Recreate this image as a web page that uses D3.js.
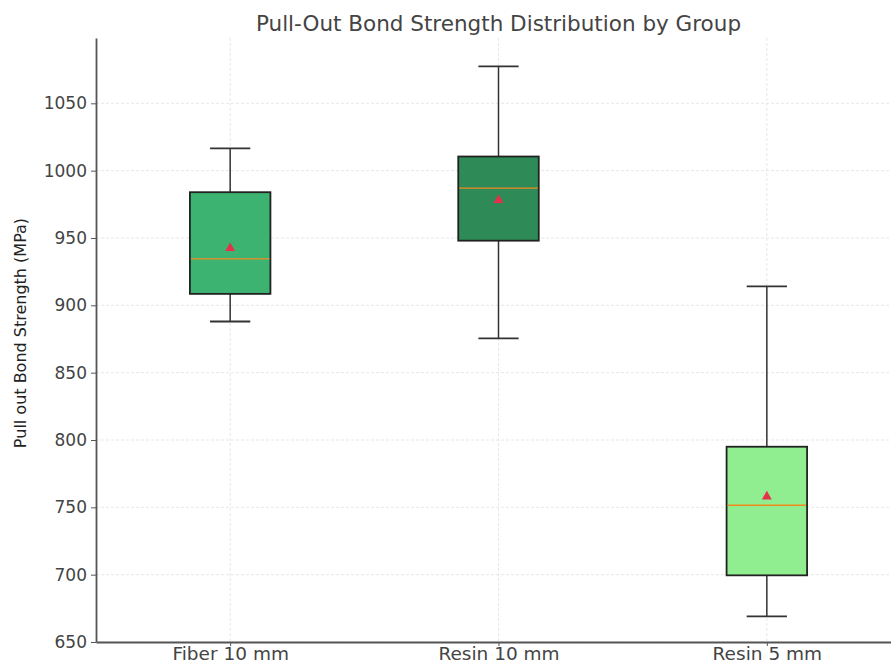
<!DOCTYPE html>
<html>
<head>
<meta charset="utf-8">
<script src="https://cdn.jsdelivr.net/npm/d3@7"></script>
<style>
  body { margin: 0; background: #fff; }
  svg { display: block; }
  .grid line { stroke: #e2e2e2; stroke-dasharray: 3,2; stroke-width: 0.8; }
  .axis path, .axis line { stroke: #555; }
  .axis text { fill: #444; }
</style>
</head>
<body>
<div id="chart"></div>
<script>
'use strict';

// values
const groups      = ['Fiber 10 mm', 'Resin 10 mm', 'Resin 5 mm'];
const whiskerLow  = [888, 875.5, 669];
const q1          = [908.5, 948, 699.5];
const median      = [934.5, 987, 751.5];
const q3          = [984, 1010.5, 795];
const whiskerHigh = [1016.5, 1077.5, 914];
const means       = [942.5, 978, 758];
const boxColors   = ['#3cb371', '#2e8b57', '#90ee90'];
const yTicks      = [650, 700, 750, 800, 850, 900, 950, 1000, 1050];

const FONT = '"DejaVu Sans", sans-serif';
const width = 891, height = 670;
const margin = { top: 38, right: -10, bottom: 28, left: 96 };
const innerW = width - margin.left - margin.right;
const innerH = height - margin.top - margin.bottom;

const svg = d3.select('#chart').append('svg')
    .attr('width', width)
    .attr('height', height)
    .attr('font-family', FONT);

const g = svg.append('g').attr('transform', 'translate(' + margin.left + ',' + margin.top + ')');

const x = d3.scaleLinear().domain([0.5, 3.5]).range([0, innerW]);
const y = d3.scaleLinear().domain([650, 1098.5]).range([innerH, 0]);

const boxW = x(1.3) - x(1);
const capW = x(1.075) - x(1);

// grid lines
g.append('g').attr('class', 'grid')
    .selectAll('line.h').data(yTicks).enter()
    .append('line')
    .attr('x1', 0).attr('x2', innerW)
    .attr('y1', d => y(d)).attr('y2', d => y(d));

g.append('g').attr('class', 'grid')
    .selectAll('line.v').data(groups).enter()
    .append('line')
    .attr('x1', (d, i) => x(i + 1)).attr('x2', (d, i) => x(i + 1))
    .attr('y1', 0).attr('y2', innerH);

const boxes = groups.map(function(name, i) {
    return { name: name, pos: i + 1, lo: whiskerLow[i], q1: q1[i], med: median[i],
             q3: q3[i], hi: whiskerHigh[i], mean: means[i], color: boxColors[i] };
});

const box = g.append('g').attr('class', 'boxes')
    .selectAll('.box').data(boxes).enter()
    .append('g').attr('class', 'box');

// whiskers
box.append('line')
    .attr('x1', d => x(d.pos)).attr('x2', d => x(d.pos))
    .attr('y1', d => y(d.q3)).attr('y2', d => y(d.hi))
    .attr('stroke', '#333').attr('stroke-width', 1.5);
box.append('line')
    .attr('x1', d => x(d.pos)).attr('x2', d => x(d.pos))
    .attr('y1', d => y(d.q1)).attr('y2', d => y(d.lo))
    .attr('stroke', '#333').attr('stroke-width', 1.5);

// caps
['hi', 'lo'].forEach(function(k) {
    box.append('line')
        .attr('x1', d => x(d.pos) - capW).attr('x2', d => x(d.pos) + capW)
        .attr('y1', d => y(d[k])).attr('y2', d => y(d[k]))
        .attr('stroke', '#333').attr('stroke-width', 1.8);
});

// box body
box.append('rect')
    .attr('x', d => x(d.pos) - boxW / 2)
    .attr('y', d => y(d.q3))
    .attr('width', boxW)
    .attr('height', d => y(d.q1) - y(d.q3))
    .attr('fill', d => d.color)
    .attr('stroke', '#222').attr('stroke-width', 1.8);

// median
box.append('line')
    .attr('x1', d => x(d.pos) - boxW / 2 + 1).attr('x2', d => x(d.pos) + boxW / 2 - 1)
    .attr('y1', d => y(d.med)).attr('y2', d => y(d.med))
    .attr('stroke', '#f08a1c').attr('stroke-width', 1.4);

// mean marker
box.append('path')
    .attr('d', d3.symbol().type(d3.symbolTriangle).size(42))
    .attr('transform', d => 'translate(' + x(d.pos) + ',' + y(d.mean) + ')')
    .attr('fill', '#e8304a');

// axes
g.append('g').attr('class', 'axis')
    .call(d3.axisLeft(y).tickValues(yTicks).tickFormat(d3.format('d')).tickSize(5).tickPadding(4).tickSizeOuter(0))
    .call(s => s.attr('font-family', FONT).attr('font-size', 17))
    .call(s => s.select('.domain').attr('stroke-width', 1.8));

g.append('g').attr('class', 'axis')
    .attr('transform', 'translate(0,' + innerH + ')')
    .call(d3.axisBottom(x).tickValues([1, 2, 3]).tickFormat(d => groups[d - 1]).tickSize(4).tickPadding(3).tickSizeOuter(0))
    .call(s => s.attr('font-family', FONT).attr('font-size', 18.5))
    .call(s => s.select('.domain').attr('stroke-width', 1.8))
    .call(s => s.selectAll('text').attr('dy', '0.6em'));

// title and y label
svg.append('text')
    .attr('x', margin.left + x(2)).attr('y', 31)
    .attr('text-anchor', 'middle')
    .attr('font-size', 21.5)
    .attr('fill', '#444')
    .text('Pull-Out Bond Strength Distribution by Group');

svg.append('text')
    .attr('transform', 'translate(26,' + (margin.top + innerH / 2 - 7) + ') rotate(-90)')
    .attr('text-anchor', 'middle')
    .attr('font-size', 16)
    .attr('fill', '#222')
    .text('Pull out Bond Strength (MPa)');
</script>
</body>
</html>
